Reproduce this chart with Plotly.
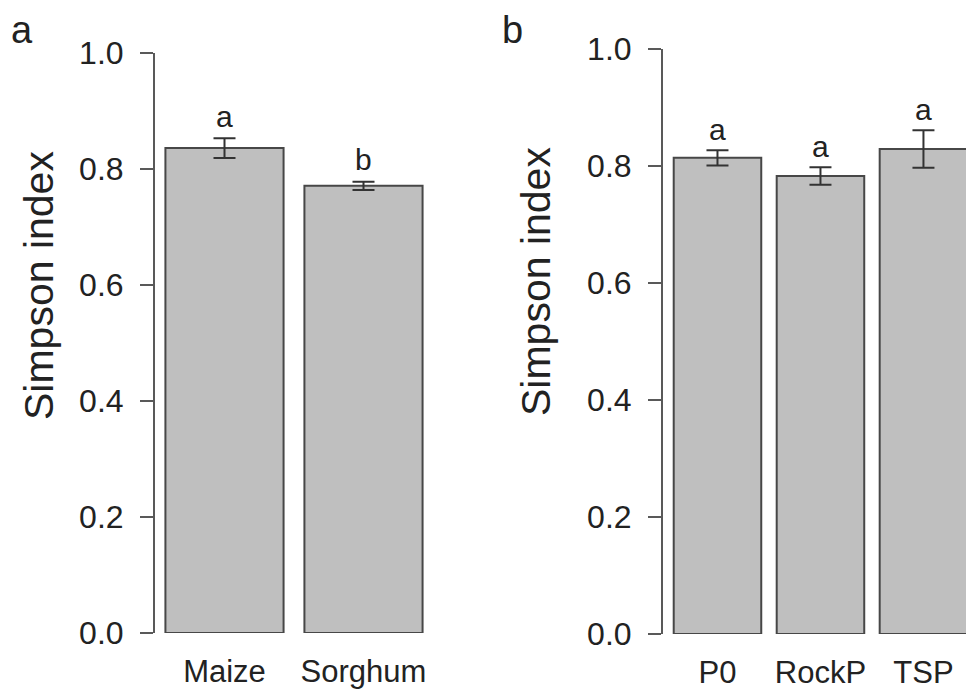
import plotly.graph_objects as go

# Panel a: crop
crops = ["Maize", "Sorghum"]
crop_mean = [0.836, 0.771]
crop_se = [0.017, 0.007]
crop_letters = ["a", "b"]

# Panel b: phosphorus treatment
ptreat = ["P0", "RockP", "TSP"]
p_mean = [0.814, 0.783, 0.829]
p_se = [0.013, 0.015, 0.032]
p_letters = ["a", "a", "a"]

y_ticks = [0.0, 0.2, 0.4, 0.6, 0.8, 1.0]
y_ticktext = ["0.0", "0.2", "0.4", "0.6", "0.8", "1.0"]

W, H = 966, 691
FONT = "Liberation Sans, Arial, sans-serif"
TXT = "#222222"
AX = "#595959"
BAR_FILL = "#bfbfbf"
BAR_LINE = "#474747"

fig = go.Figure()

fig.add_trace(go.Bar(
    x=crops, y=crop_mean, xaxis="x", yaxis="y",
    marker=dict(color=BAR_FILL, line=dict(color=BAR_LINE, width=2)),
    error_y=dict(type="data", array=crop_se, color="#333333", thickness=2, width=11),
    showlegend=False, hoverinfo="skip",
))
fig.add_trace(go.Bar(
    x=ptreat, y=p_mean, xaxis="x2", yaxis="y2",
    marker=dict(color=BAR_FILL, line=dict(color=BAR_LINE, width=2)),
    error_y=dict(type="data", array=p_se, color="#333333", thickness=2, width=11),
    showlegend=False, hoverinfo="skip",
))

def px_x(p):
    return p / W

def px_y(p):
    return 1 - p / H

yaxis_common = dict(
    range=[0, 1], tickvals=y_ticks, ticktext=y_ticktext,
    showline=True, linecolor=AX, linewidth=2,
    ticks="outside", ticklen=13, tickwidth=2, tickcolor=AX,
    tickfont=dict(family=FONT, size=32, color=TXT),
    showgrid=False, zeroline=False, ticklabelstandoff=10,
    automargin=False, fixedrange=True,
)
xaxis_common = dict(
    showline=False, ticks="", showgrid=False, zeroline=False,
    tickfont=dict(family=FONT, size=31, color=TXT),
    ticklabelstandoff=17, automargin=False, fixedrange=True,
)

fig.update_layout(
    width=W, height=H,
    margin=dict(l=0, r=0, t=0, b=0, autoexpand=False),
    paper_bgcolor="white", plot_bgcolor="white",
    bargap=0.15,
    xaxis=dict(domain=[px_x(155), px_x(433)], range=[-0.5, 1.5], anchor="y", **xaxis_common),
    yaxis=dict(domain=[px_y(633), px_y(53)], anchor="x", **yaxis_common),
    xaxis2=dict(domain=[px_x(663), 1.0], range=[-0.529, 2.413], anchor="y2", **xaxis_common),
    yaxis2=dict(domain=[px_y(634), px_y(49)], anchor="x2", **yaxis_common),
)

annotations = []
for c, m, s, l in zip(crops, crop_mean, crop_se, crop_letters):
    annotations.append(dict(x=c, y=m + s, xref="x", yref="y", text=l, showarrow=False,
                            yanchor="middle", yshift=22,
                            font=dict(family=FONT, size=30, color=TXT)))
for c, m, s, l in zip(ptreat, p_mean, p_se, p_letters):
    annotations.append(dict(x=c, y=m + s, xref="x2", yref="y2", text=l, showarrow=False,
                            yanchor="middle", yshift=21,
                            font=dict(family=FONT, size=30, color=TXT)))

# y-axis titles
annotations.append(dict(x=px_x(39), y=px_y(286), xref="paper", yref="paper",
                        text="Simpson index", textangle=-90, showarrow=False,
                        xanchor="center", yanchor="middle",
                        font=dict(family=FONT, size=41, color=TXT)))
annotations.append(dict(x=px_x(536), y=px_y(282), xref="paper", yref="paper",
                        text="Simpson index", textangle=-90, showarrow=False,
                        xanchor="center", yanchor="middle",
                        font=dict(family=FONT, size=41, color=TXT)))
# panel labels
annotations.append(dict(x=px_x(22), y=px_y(30), xref="paper", yref="paper",
                        text="a", showarrow=False, xanchor="center", yanchor="middle",
                        font=dict(family=FONT, size=38, color=TXT)))
annotations.append(dict(x=px_x(512), y=px_y(30), xref="paper", yref="paper",
                        text="b", showarrow=False, xanchor="center", yanchor="middle",
                        font=dict(family=FONT, size=38, color=TXT)))

fig.update_layout(annotations=annotations)
fig.write_html(
    "out.html",
    config={"displayModeBar": False, "staticPlot": True},
    post_script="document.body.style.margin='0px';document.body.style.overflow='hidden';",
)
